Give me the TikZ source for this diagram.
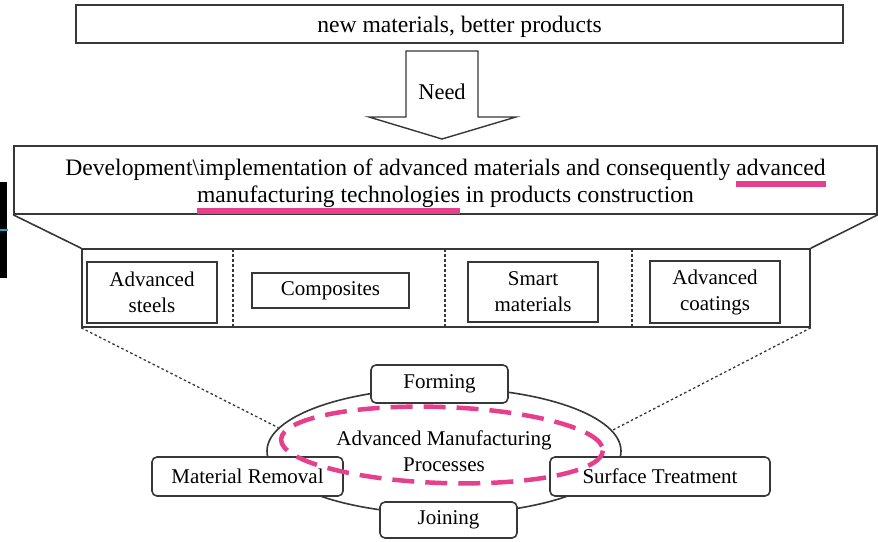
\documentclass[tikz,border=0pt]{standalone}
\usepackage{fontspec}
\setmainfont{Liberation Serif}
\usepackage{xcolor}
\usepackage{tikz}
\usetikzlibrary{positioning, shapes.geometric}

\definecolor{boxline}{RGB}{55,55,55}
\definecolor{pinkline}{RGB}{230,64,140}
\newsavebox{\ulbox}
\newcommand{\pinkul}[1]{\sbox{\ulbox}{#1}\rlap{\smash{\textcolor{pinkline}{\rule[-11.5pt]{\wd\ulbox}{6.5pt}}}}\usebox{\ulbox}}

\tikzset{
  plainbox/.style={draw=boxline, line width=1.6pt, fill=white, inner sep=0pt, align=center, font=\fontsize{21}{26}\selectfont},
  procbox/.style={plainbox, rounded corners=5pt},
  bigfont/.style={font=\fontsize{23.6}{27}\selectfont},
  divider/.style={draw=boxline, line width=1.2pt, dash pattern=on 3pt off 2pt},
  dotline/.style={draw=boxline, line width=1.3pt, dash pattern=on 2.5pt off 2.5pt},
}

\begin{document}
\begin{tikzpicture}[x=1pt, y=-1pt]
    \useasboundingbox (0,0) rectangle (878,541);
    % Edge mark on the left
    \fill[black] (0,182) rectangle (7,278);
    \draw[cyan!70!teal, line width=1.5pt] (0,230) -- (8,230);
    % Need arrow
    \node[plainbox, bigfont, text depth=0pt, minimum width=767pt, minimum height=38pt] (top) at (459.5,24) {new materials, better products};
    \draw[boxline, line width=1.4pt, fill=white] (406,51) -- (478,51) -- (478,117) -- (516,117) -- (442,139) -- (369,117) -- (406,117) -- cycle;
    \node[font=\fontsize{22.5}{27}\selectfont] (need) at (442,92) {Need};
    % Development box
    \node[plainbox, bigfont, minimum width=863pt, minimum height=68pt] (dev) at (445.5,180) {\rule{0pt}{24pt}Development\textbackslash implementation of advanced materials and consequently \pinkul{advanced}\\ \pinkul{manufacturing technologies} in products construction};
    % Material kinds
    \node[plainbox, minimum width=728pt, minimum height=78pt] (kinds) at (446,288) {};
    \draw[boxline, line width=1.6pt] (dev.south west) -- (kinds.north west);
    \draw[boxline, line width=1.6pt] (dev.south east) -- (kinds.north east);
    \foreach \x in {233,445,632} {\draw[divider] (\x,249) -- (\x,327);}
    \node[plainbox, minimum width=130pt, minimum height=61pt] (steels) at (152,292.5) {Advanced\\steels};
    \node[plainbox, minimum width=157pt, minimum height=35pt] (comp) at (330.5,290.5) {Composites};
    \node[plainbox, minimum width=130pt, minimum height=60pt] (smart) at (533,292) {Smart\\materials};
    \node[plainbox, minimum width=130pt, minimum height=62pt] (coat) at (715,292) {Advanced\\coatings};
    % Processes
    \node[draw=boxline, line width=1.6pt, ellipse, minimum width=354pt, minimum height=126pt, inner sep=0pt, align=center, font=\fontsize{21}{26}\selectfont] (amp) at (444,451) {Advanced Manufacturing\\Processes};
    \draw[dotline] (kinds.south west) -- (amp.172);
    \draw[dotline] (kinds.south east) -- (amp.7);
    \node[procbox, minimum width=137pt, minimum height=38pt] (forming) at (439.5,384) {Forming};
    \node[procbox, minimum width=191pt, minimum height=39pt] (removal) at (247.5,476.5) {Material Removal};
    \node[procbox, minimum width=220pt, minimum height=39pt] (surface) at (660,476.5) {Surface Treatment};
    \node[procbox, minimum width=137pt, minimum height=36pt] (joining) at (448.5,520) {Joining};
    \draw[pinkline, line width=4.5pt, dash pattern=on 22pt off 11pt, rotate around={-2:(442,445)}] (442,445) ellipse [x radius=161, y radius=38];
\end{tikzpicture}
\end{document}
